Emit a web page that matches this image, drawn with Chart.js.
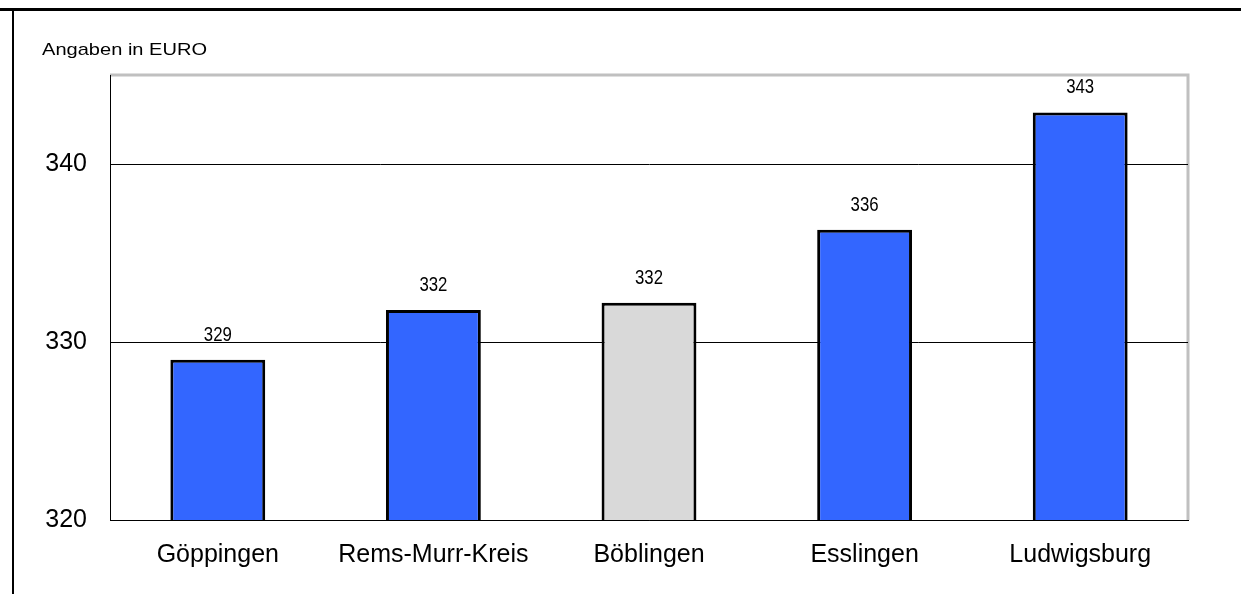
<!DOCTYPE html>
<html>
<head>
<meta charset="utf-8">
<script src="https://cdn.jsdelivr.net/npm/chart.js@4"></script>
<style>
  html, body { margin: 0; padding: 0; background: #fff; }
  #wrap { width: 1241px; height: 594px; position: relative; }
</style>
</head>
<body>
<div id="wrap"><canvas id="chart"></canvas></div>
<script>
const regions = ['Göppingen', 'Rems-Murr-Kreis', 'Böblingen', 'Esslingen', 'Ludwigsburg'];
const amounts = [329.0, 331.8, 332.2, 336.3, 342.9];
const valueLabels = ['329', '332', '332', '336', '343'];
const barColors = ['#3366ff', '#3366ff', '#d9d9d9', '#3366ff', '#3366ff'];
const yTicks = [320, 330, 340];

Chart.defaults.font.family = '"Liberation Sans", Arial, sans-serif';
Chart.defaults.color = '#000';

// text drawn a bit squeezed/stretched sideways, like the original export
function stretchedText(c, txt, x, y, size, sx, align) {
    c.save();
    c.translate(x, y);
    c.scale(sx, 1);
    c.font = size + 'px "Liberation Sans", Arial, sans-serif';
    c.textAlign = align;
    c.textBaseline = 'middle';
    c.fillText(txt, 0, 0);
    c.restore();
}

// outer frame, unit note, gray plot border and the numbers over the bars
const decor = {
    id: 'decor',
    beforeDraw(chart) {
        const c = chart.ctx;
        const a = chart.chartArea;
        c.save();
        c.fillStyle = '#000';
        c.fillRect(0, 8, 1241, 3);
        c.fillRect(12, 8, 2, 586);
        stretchedText(c, 'Angaben in EURO', 42, 50, 17, 1.18, 'left');
        c.strokeStyle = '#c0c0c0';
        c.lineWidth = 3;
        c.beginPath();
        c.moveTo(a.left, a.top);
        c.lineTo(a.right, a.top);
        c.lineTo(a.right, a.bottom);
        c.stroke();
        c.restore();
    },
    afterDatasetsDraw(chart) {
        const c = chart.ctx;
        const meta = chart.getDatasetMeta(0);
        c.save();
        c.fillStyle = '#000';
        meta.data.forEach((bar, i) => {
            stretchedText(c, valueLabels[i], bar.x, bar.y - 25, 21, 0.8, 'center');
        });
        c.restore();
    }
};

new Chart(document.getElementById('chart'), {
    type: 'bar',
    data: {
        labels: regions,
        datasets: [{
            data: amounts,
            backgroundColor: barColors,
            borderColor: '#000',
            borderWidth: 3,
            borderSkipped: 'bottom',
            barPercentage: 0.44,
            categoryPercentage: 1
        }]
    },
    options: {
        responsive: true,
        maintainAspectRatio: false,
        animation: false,
        layout: { padding: { top: 75, right: 53, left: 0, bottom: 0 } },
        plugins: {
            legend: { display: false },
            tooltip: { enabled: false }
        },
        scales: {
            x: {
                grid: { display: false, drawTicks: false },
                border: { color: '#000', width: 1 },
                ticks: { padding: 20, font: { size: 25 }, color: '#000' },
                afterFit(s) { s.height = 74; }
            },
            y: {
                min: 320,
                max: 345,
                afterBuildTicks(s) { s.ticks = yTicks.map(v => ({ value: v })); },
                grid: { color: '#000', lineWidth: 1, drawTicks: false },
                border: { color: '#000', width: 1 },
                ticks: { padding: 23, font: { size: 25 }, color: '#000' },
                afterFit(s) { s.width = 110; }
            }
        }
    },
    plugins: [decor]
});
</script>
</body>
</html>
